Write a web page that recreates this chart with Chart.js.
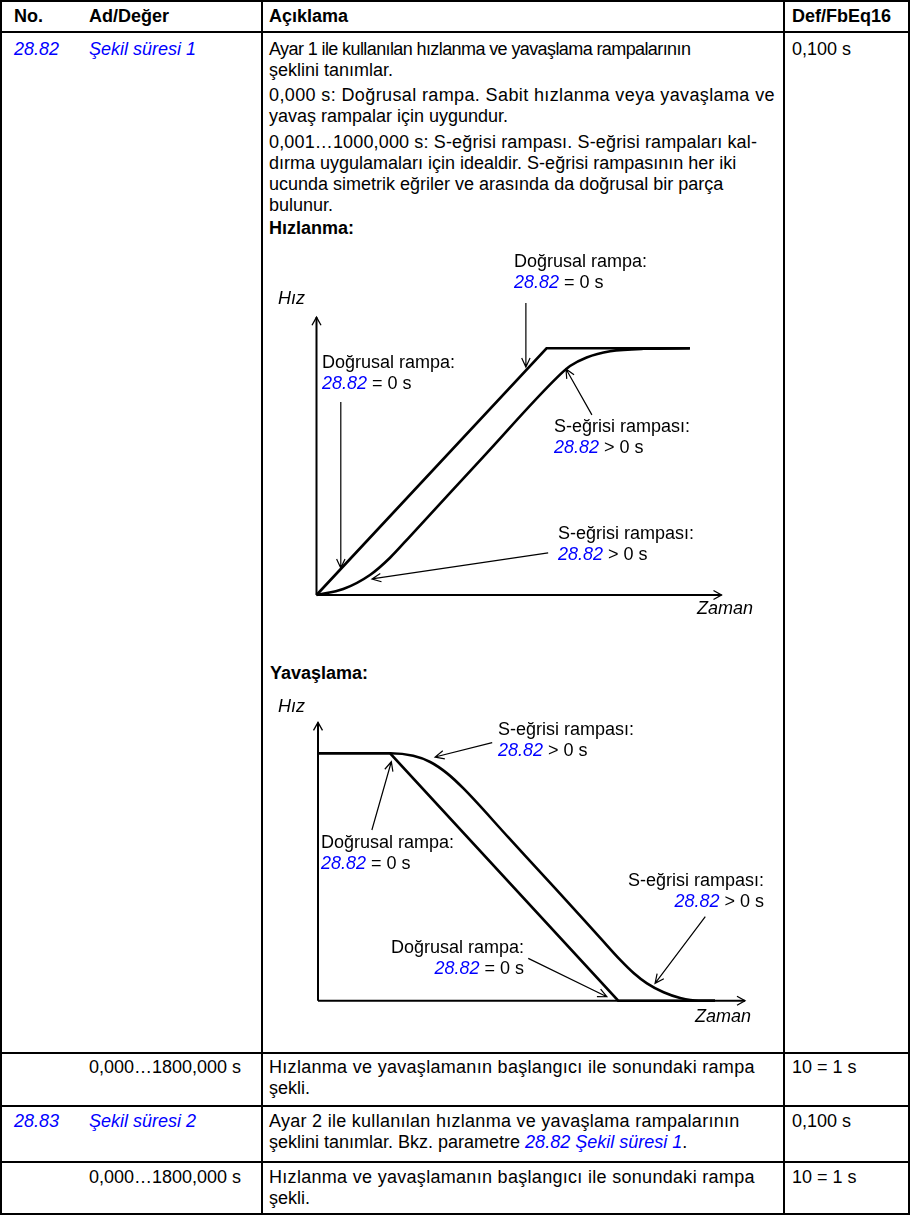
<!DOCTYPE html>
<html lang="tr">
<head>
<meta charset="utf-8">
<title>28.82 Şekil süresi 1</title>
<script src="https://cdn.jsdelivr.net/npm/chart.js@4.4.1/dist/chart.umd.min.js"></script>
<style>
  html, body { margin: 0; padding: 0; background: #fff; }
  body { position: relative; width: 914px; height: 1215px; overflow: hidden;
         font-family: "Liberation Sans", Arial, sans-serif; font-size: 18px; color: #000; }
  * { box-sizing: border-box; }
  .ref { color: #0000ff; font-style: italic; }

  table.params { position: absolute; left: 0; top: 0; width: 910px; table-layout: fixed;
                 border-collapse: separate; border-spacing: 0;
                 border-top: 2px solid #000; border-left: 2px solid #000; }
  table.params th, table.params td { padding: 0; vertical-align: top; line-height: 21px;
                 white-space: nowrap; text-align: left; font-weight: normal;
                 border-bottom: 2px solid #000; }
  table.params th { font-weight: bold; padding-top: 3.5px; }
  .c-no   { padding-left: 12px !important; }
  .c-name { padding-left: 7px !important; border-right: 2px solid #000; }
  .c-desc { padding-left: 6px !important; border-right: 2px solid #000; }
  .c-def  { padding-left: 7px !important; border-right: 2px solid #000; }
  .desc p { margin: 0 0 4.5px 0; }
  .desc b { display: block; margin-top: 2px; }

  .fig { position: absolute; }
  .note { position: absolute; font-size: 18px; line-height: 21px; white-space: nowrap; }
  .note.r { text-align: right; }
  .axis-label { position: absolute; font-size: 18px; line-height: 21px; font-style: italic; }
  .fig-title { position: absolute; font-weight: bold; line-height: 21px; }
</style>
</head>
<body>

<table class="params">
  <colgroup>
    <col style="width:80px"><col style="width:181px"><col style="width:522px"><col style="width:125px">
  </colgroup>
  <tr style="height:31px">
    <th class="c-no">No.</th>
    <th class="c-name">Ad/Değer</th>
    <th class="c-desc">Açıklama</th>
    <th class="c-def">Def/FbEq16</th>
  </tr>
  <tr style="height:1021px">
    <td class="c-no ref" style="padding-top:5.5px">28.82</td>
    <td class="c-name" style="padding-top:5.5px"><span class="ref">Şekil süresi 1</span></td>
    <td class="c-desc desc" style="padding-top:5.5px">
      <p><span style="letter-spacing:-0.6px">Ayar 1 ile kullanılan hızlanma ve yavaşlama rampalarının</span><br>şeklini tanımlar.</p>
      <p><span style="letter-spacing:0.38px">0,000 s: Doğrusal rampa. Sabit hızlanma veya yavaşlama ve</span><br>yavaş rampalar için uygundur.</p>
      <p style="margin:0"><span style="letter-spacing:0.15px">0,001…1000,000 s: S-eğrisi rampası. S-eğrisi rampaları kal-</span><br>dırma uygulamaları için idealdir. S-eğrisi rampasının her iki<br>ucunda simetrik eğriler ve arasında da doğrusal bir parça<br>bulunur.</p>
      <b>Hızlanma:</b>
    </td>
    <td class="c-def" style="padding-top:5.5px">0,100 s</td>
  </tr>
  <tr style="height:53px">
    <td class="c-no" style="padding-top:2.5px"></td>
    <td class="c-name" style="padding-top:2.5px">0,000…1800,000 s</td>
    <td class="c-desc" style="padding-top:2.5px"><span style="letter-spacing:0.3px">Hızlanma ve yavaşlamanın başlangıcı ile sonundaki rampa</span><br>şekli.</td>
    <td class="c-def" style="padding-top:2.5px">10 = 1 s</td>
  </tr>
  <tr style="height:56px">
    <td class="c-no ref" style="padding-top:3.5px">28.83</td>
    <td class="c-name" style="padding-top:3.5px"><span class="ref">Şekil süresi 2</span></td>
    <td class="c-desc" style="padding-top:3.5px"><span style="letter-spacing:0.28px">Ayar 2 ile kullanılan hızlanma ve yavaşlama rampalarının</span><br>şeklini tanımlar. Bkz. parametre <span class="ref">28.82 Şekil süresi 1</span>.</td>
    <td class="c-def" style="padding-top:3.5px">0,100 s</td>
  </tr>
  <tr style="height:52px">
    <td class="c-no" style="padding-top:3.5px"></td>
    <td class="c-name" style="padding-top:3.5px">0,000…1800,000 s</td>
    <td class="c-desc" style="padding-top:3.5px"><span style="letter-spacing:0.3px">Hızlanma ve yavaşlamanın başlangıcı ile sonundaki rampa</span><br>şekli.</td>
    <td class="c-def" style="padding-top:3.5px">10 = 1 s</td>
  </tr>
</table>

<!-- Hızlanma -->
<canvas id="accelChart" class="fig" width="522" height="385" style="left:262px;top:240px;width:522px;height:385px"></canvas>
<div class="axis-label" style="left:278px;top:288px">Hız</div>
<div class="axis-label" style="left:697px;top:597.5px">Zaman</div>
<div class="note" style="left:514px;top:250.5px">Doğrusal rampa:<br><span class="ref">28.82</span> = 0 s</div>
<div class="note" style="left:322px;top:351.5px">Doğrusal rampa:<br><span class="ref">28.82</span> = 0 s</div>
<div class="note" style="left:554px;top:415.5px">S-eğrisi rampası:<br><span class="ref">28.82</span> &gt; 0 s</div>
<div class="note" style="left:558px;top:523px">S-eğrisi rampası:<br><span class="ref">28.82</span> &gt; 0 s</div>

<!-- Yavaşlama -->
<div class="fig-title" style="left:270px;top:663px">Yavaşlama:</div>
<canvas id="decelChart" class="fig" width="522" height="350" style="left:262px;top:690px;width:522px;height:350px"></canvas>
<div class="axis-label" style="left:278px;top:696px">Hız</div>
<div class="axis-label" style="left:695px;top:1006px">Zaman</div>
<div class="note" style="left:498px;top:719px">S-eğrisi rampası:<br><span class="ref">28.82</span> &gt; 0 s</div>
<div class="note" style="left:321px;top:831.5px">Doğrusal rampa:<br><span class="ref">28.82</span> = 0 s</div>
<div class="note r" style="right:150px;top:870px">S-eğrisi rampası:<br><span class="ref">28.82</span> &gt; 0 s</div>
<div class="note r" style="right:390px;top:936.5px">Doğrusal rampa:<br><span class="ref">28.82</span> = 0 s</div>

<script>
// Hızlanma: time (arbitrary units) and speed (1 = set speed)
const accelLinearTime  = [0, 5.68, 9.22];
const accelLinearSpeed = [0, 1, 1];
const accelSTime  = [0, 0.66, 1.32, 1.81, 2.31, 4.13, 5.93, 6.26, 6.67, 7.25, 8.07, 9.22];
const accelSSpeed = [0, 0.024, 0.081, 0.150, 0.238, 0.562, 0.880, 0.928, 0.963, 0.988, 0.998, 1];

// Yavaşlama
const decelLinearTime  = [0, 1.78, 7.41, 9.80];
const decelLinearSpeed = [1, 1, 0, 0];
const decelSTime  = [0, 1.78, 2.35, 2.77, 3.18, 3.59, 4.70, 5.85, 6.96, 7.46, 7.79, 8.12, 8.53, 8.94, 9.40, 9.80];
const decelSSpeed = [1, 1, 0.990, 0.965, 0.920, 0.858, 0.660, 0.455, 0.255, 0.165, 0.112, 0.070, 0.034, 0.011, 0, 0];

// axis ends (time, speed) where the arrow heads sit
const accelAxisEnd = [10, 1.126];
const decelAxisEnd = [10.54, 1.125];

// callout arrows: [fromTime, fromSpeed, toTime, toSpeed]
const accelPointers = [
  [5.17, 1.184, 5.17, 0.924],
  [0.60, 0.782, 0.60, 0.109],
  [6.80, 0.730, 6.16, 0.916],
  [5.72, 0.171, 1.37, 0.065],
];
const decelPointers = [
  [4.30, 1.043, 2.89, 0.985],
  [1.33, 0.690, 1.81, 0.966],
  [9.56, 0.340, 8.32, 0.070],
  [5.19, 0.171, 7.13, 0.016],
];

const toPoints = (xs, ys) => xs.map((x, i) => ({ x, y: ys[i] }));

function arrowHead(ctx, fx, fy, tx, ty, len, half) {
  const a = Math.atan2(ty - fy, tx - fx);
  const c = Math.cos(a), s = Math.sin(a);
  ctx.moveTo(tx - len * c + half * s, ty - len * s - half * c);
  ctx.lineTo(tx, ty);
  ctx.lineTo(tx - len * c - half * s, ty - len * s + half * c);
}

// plain axes with open arrow heads
const axisArrows = {
  id: 'axisArrows',
  beforeDatasetsDraw(chart) {
    const { ctx, scales: { x, y } } = chart;
    const x0 = x.getPixelForValue(0), y0 = y.getPixelForValue(0);
    const x1 = x.getPixelForValue(x.max), y1 = y.getPixelForValue(y.max);
    ctx.save();
    ctx.strokeStyle = '#000';
    ctx.lineWidth = 2;
    ctx.beginPath();
    ctx.moveTo(x0, y0); ctx.lineTo(x1, y0);
    ctx.moveTo(x0, y0); ctx.lineTo(x0, y1);
    ctx.stroke();
    ctx.lineWidth = 1.3;
    ctx.beginPath();
    arrowHead(ctx, x0, y0, x1, y0, 8, 4.5);
    arrowHead(ctx, x0, y0, x0, y1, 8, 4.5);
    ctx.stroke();
    ctx.restore();
  }
};

function pointerPlugin(list) {
  return {
    id: 'pointers',
    afterDatasetsDraw(chart) {
      const { ctx, scales: { x, y } } = chart;
      ctx.save();
      ctx.strokeStyle = '#000';
      ctx.lineWidth = 1.2;
      list.forEach(([ft, fv, tt, tv]) => {
        const fx = x.getPixelForValue(ft), fy = y.getPixelForValue(fv);
        const tx = x.getPixelForValue(tt), ty = y.getPixelForValue(tv);
        ctx.beginPath();
        ctx.moveTo(fx, fy); ctx.lineTo(tx, ty);
        arrowHead(ctx, fx, fy, tx, ty, 9, 4.2);
        ctx.stroke();
      });
      ctx.restore();
    }
  };
}

function rampChart(id, linT, linV, sT, sV, axisEnd, pointers, padding) {
  return new Chart(document.getElementById(id), {
    type: 'line',
    data: {
      datasets: [
        { label: 'Doğrusal rampa', data: toPoints(linT, linV), borderColor: '#000', borderWidth: 2.6,
          pointRadius: 0, tension: 0, borderJoinStyle: 'miter', clip: false },
        { label: 'S-eğrisi rampası', data: toPoints(sT, sV), borderColor: '#000', borderWidth: 2.6,
          pointRadius: 0, cubicInterpolationMode: 'monotone', clip: false }
      ]
    },
    options: {
      responsive: false,
      animation: false,
      events: [],
      layout: { padding },
      plugins: { legend: { display: false }, tooltip: { enabled: false } },
      scales: {
        x: { type: 'linear', min: 0, max: axisEnd[0], display: false },
        y: { type: 'linear', min: 0, max: axisEnd[1], display: false }
      }
    },
    plugins: [axisArrows, pointerPlugin(pointers)]
  });
}

rampChart('accelChart', accelLinearTime, accelLinearSpeed, accelSTime, accelSSpeed,
  accelAxisEnd, accelPointers, { left: 54.5, right: 62.5, top: 77.2, bottom: 30 });
rampChart('decelChart', decelLinearTime, decelLinearSpeed, decelSTime, decelSSpeed,
  decelAxisEnd, decelPointers, { left: 56, right: 39, top: 32.4, bottom: 39.3 });
</script>
</body>
</html>
